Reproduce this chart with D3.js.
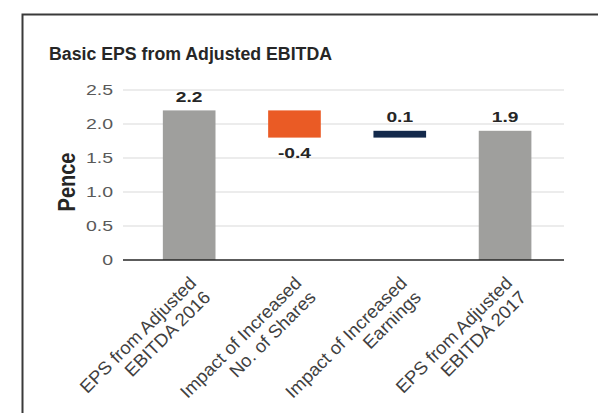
<!DOCTYPE html>
<html>
<head>
<meta charset="utf-8">
<script src="https://cdn.jsdelivr.net/npm/d3@7"></script>
<style>
  html, body { margin: 0; padding: 0; background: #fff; }
  svg { display: block; font-family: "Liberation Sans", Arial, sans-serif; }
</style>
</head>
<body>
<svg id="chart" width="598" height="413"></svg>
<script>
// ---- data ----
const categories = [
  "EPS from Adjusted\nEBITDA 2016",
  "Impact of Increased\nNo. of Shares",
  "Impact of Increased\nEarnings",
  "EPS from Adjusted\nEBITDA 2017"
];
const values = [2.2, -0.4, 0.1, 1.9];
const barKinds = ["total", "change", "change", "total"];
const yTicks = [0, 0.5, 1.0, 1.5, 2.0, 2.5];
const yTickLabels = ["0", "0.5", "1.0", "1.5", "2.0", "2.5"];
const chartTitle = "Basic EPS from Adjusted EBITDA";
const yTitle = "Pence";

// ---- layout & style ----
const W = 598, H = 413;
const plot = { left: 123, right: 564, top: 90, bottom: 260 };
const colors = { total: "#9f9f9d", down: "#ea5b25", up: "#13294b" };
const fmt = d3.formatLocale({ decimal: ".", thousands: ",", grouping: [3], currency: ["", ""], minus: "-" }).format(".1f");

const svg = d3.select("#chart");

// widen text horizontally to the wide face used in the chart
function stretch(sel, k) {
  sel.each(function () {
    const L = this.getComputedTextLength();
    this.setAttribute("textLength", L * k);
    this.setAttribute("lengthAdjust", "spacingAndGlyphs");
  });
}

// outer frame
svg.append("rect")
  .attr("x", 22.5).attr("y", 14.5)
  .attr("width", W).attr("height", H)
  .attr("fill", "#fff")
  .attr("stroke", "#3a3a3a")
  .attr("stroke-width", 2);

// title
svg.append("text")
  .attr("x", 49).attr("y", 60)
  .attr("font-size", 18).attr("font-weight", "bold")
  .attr("fill", "#262626")
  .attr("textLength", 283).attr("lengthAdjust", "spacingAndGlyphs")
  .text(chartTitle);

// scales
const x = d3.scaleBand()
  .domain(categories)
  .range([plot.left, plot.right])
  .paddingInner(0.5)
  .paddingOuter(0.344)
  .align(0.55);

const y = d3.scaleLinear()
  .domain([0, 2.5])
  .range([plot.bottom, plot.top]);

// gridlines
svg.append("g")
  .selectAll("line")
  .data(yTicks.filter(d => d > 0))
  .join("line")
  .attr("x1", plot.left).attr("x2", plot.right)
  .attr("y1", d => y(d)).attr("y2", d => y(d))
  .attr("stroke", "#d9d9d9")
  .attr("stroke-width", 1.2);

// y axis labels
const yAxis = svg.append("g")
  .attr("transform", `translate(${plot.left},0)`)
  .call(d3.axisLeft(y).tickValues(yTicks).tickFormat((d, i) => yTickLabels[i]).tickSize(0).tickPadding(10));
yAxis.select(".domain").remove();
yAxis.selectAll("text")
  .attr("font-family", "'Liberation Sans', Arial, sans-serif")
  .attr("font-size", 15)
  .attr("fill", "#595959")
  .call(stretch, 1.3);

// y axis title
svg.append("g")
  .attr("transform", "translate(75,182) scale(1.15,1) rotate(-90)")
  .append("text")
  .attr("text-anchor", "middle")
  .attr("font-size", 20).attr("font-weight", "bold")
  .attr("fill", "#262626")
  .text(yTitle);

// waterfall segments
let running = 0;
const bars = values.map((v, i) => {
  let y0, y1;
  if (barKinds[i] === "total") { y0 = 0; y1 = v; running = v; }
  else { y0 = running; y1 = running + v; running += v; }
  const color = barKinds[i] === "total" ? colors.total : (v < 0 ? colors.down : colors.up);
  return { cat: categories[i], v, y0, y1, color };
});

svg.append("g")
  .selectAll("rect")
  .data(bars)
  .join("rect")
  .attr("x", d => x(d.cat))
  .attr("width", x.bandwidth())
  .attr("y", d => y(Math.max(d.y0, d.y1)))
  .attr("height", d => Math.abs(y(d.y0) - y(d.y1)))
  .attr("fill", d => d.color);

// value labels
svg.append("g")
  .selectAll("text")
  .data(bars)
  .join("text")
  .attr("x", d => x(d.cat) + x.bandwidth() / 2)
  .attr("y", d => d.v < 0 ? y(Math.min(d.y0, d.y1)) + 20 : y(Math.max(d.y0, d.y1)) - 8.5)
  .attr("text-anchor", "middle")
  .attr("font-size", 15).attr("font-weight", "bold")
  .attr("fill", "#262626")
  .text(d => fmt(d.v))
  .call(stretch, 1.28);

// zero axis line
svg.append("line")
  .attr("x1", plot.left).attr("x2", plot.right)
  .attr("y1", y(0)).attr("y2", y(0))
  .attr("stroke", "#262626")
  .attr("stroke-width", 1.5);

// rotated category labels
const catG = svg.append("g")
  .selectAll("g")
  .data(categories)
  .join("g")
  .attr("transform", d => `translate(${x(d) + x.bandwidth() / 2 - 1},${y(0) + 15}) rotate(-45)`);

catG.selectAll("text")
  .data(d => d.split("\n"))
  .join("text")
  .attr("x", 0)
  .attr("y", (d, i) => 13 + i * 20)
  .attr("text-anchor", "end")
  .attr("font-size", 18)
  .attr("fill", "#404040")
  .text(d => d)
  .call(stretch, 1.03);
</script>
</body>
</html>
